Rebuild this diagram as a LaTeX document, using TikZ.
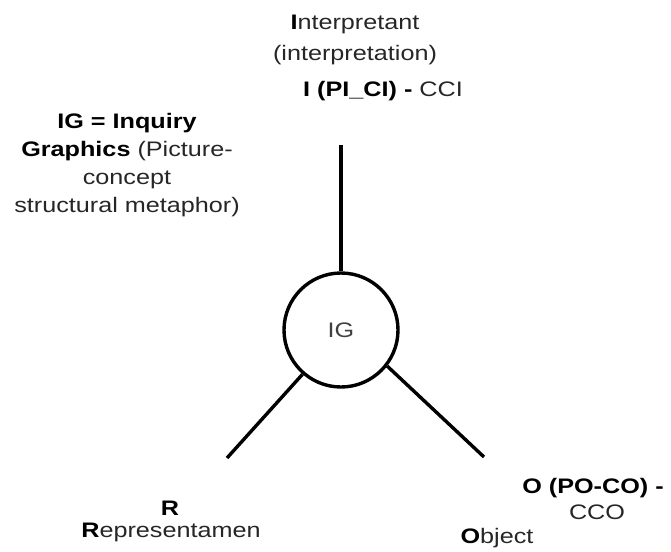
\documentclass[tikz,border=0pt]{standalone}
\usepackage{fontspec}
\setmainfont{Liberation Sans}[FakeStretch=1.2]
\begin{document}
\begin{tikzpicture}[x=1pt,y=-1pt,
  lbl/.style={anchor=base,inner sep=0pt,font=\fontsize{21}{28}\selectfont,text=black!85},
  edge/.style={line width=3.4pt,black},
  hub/.style={circle,draw=black,line width=3.4pt,minimum size=114pt,inner sep=0pt,
              font=\fontsize{21}{28}\selectfont,text=black!75}]
\useasboundingbox (0,0) rectangle (671,551);

% central sign node
\node[hub] (ig) at (341,330) {IG};

% free ends of the three branches
\coordinate (itop) at (341,145);
\coordinate (rend) at (227,458);
\coordinate (oend) at (484,457);

\draw[edge] (itop) -- (ig.north);
\draw[edge] (ig.229) -- (rend);
\draw[edge] (ig.322) -- (oend);

% interpretant
\node[lbl] (i1) at (355,30) {\textbf{\color{black}I}nterpretant};
\node[lbl] (i2) at (355,60) {(interpretation)};
\node[lbl] (i3) at (383,96) {\textbf{\color{black}I (PI\_CI) -} CCI};

% description of IG
\node[lbl,align=center,anchor=base] (desc) at (127,212)
  {\textbf{\color{black}IG = Inquiry}\\
   \textbf{\color{black}Graphics} (Picture-\\
   concept\\
   structural metaphor)};

% representamen
\node[lbl] (r1) at (170,515) {\textbf{\color{black}R}};
\node[lbl] (r2) at (171,537) {\textbf{\color{black}R}epresentamen};

% object
\node[lbl] (o1) at (593,493) {\textbf{\color{black}O (PO-CO) -}};
\node[lbl] (o2) at (597,519) {CCO};
\node[lbl] (o3) at (497,543) {\textbf{\color{black}O}bject};
\end{tikzpicture}
\end{document}
